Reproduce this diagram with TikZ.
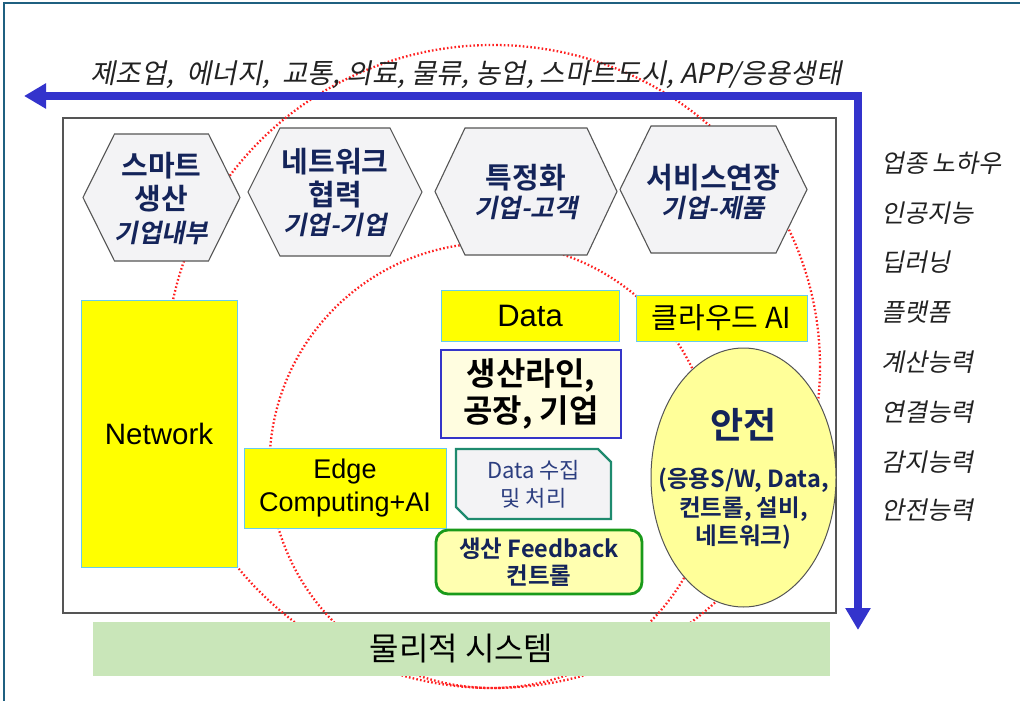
\documentclass[tikz,border=0pt]{standalone}
\usepackage{fontspec}
\setmainfont{Liberation Sans}
\newfontfamily\kr{Noto Sans CJK KR}
\newfontfamily\krb{Noto Sans CJK KR Bold}
\newfontfamily\krit[FakeSlant=0.2]{Noto Sans CJK KR}
\newfontfamily\krbi[FakeSlant=0.2]{Noto Sans CJK KR Bold}
\usetikzlibrary{shapes.geometric,arrows.meta}
\definecolor{navy}{HTML}{14245A}
\definecolor{hexfill}{HTML}{F3F3F5}
\definecolor{hexline}{HTML}{555555}
\definecolor{ylw}{HTML}{FFFF00}
\definecolor{ylwline}{HTML}{66CCEE}
\definecolor{cream}{HTML}{FFFDE0}
\definecolor{boxblue}{HTML}{3535C8}
\definecolor{tealline}{HTML}{1E8A6E}
\definecolor{datatext}{HTML}{2C3E80}
\definecolor{fbgreen}{HTML}{1A9A1A}
\definecolor{fbfill}{HTML}{FFFFB0}
\definecolor{elfill}{HTML}{FFFF99}
\definecolor{barfill}{HTML}{C9E6B9}
\definecolor{arrblue}{HTML}{3333CC}
\definecolor{framecol}{HTML}{1F6080}
\definecolor{dgray}{HTML}{222222}
\definecolor{dotred}{HTML}{FF2020}
\newcommand\myhex[5]{%
  \draw[hexsty] (#1-#3,#2) -- (#1-#3+#5,#2-#4) -- (#1+#3-#5,#2-#4) -- (#1+#3,#2)
    -- (#1+#3-#5,#2+#4) -- (#1-#3+#5,#2+#4) -- cycle;}
\tikzset{
  hexsty/.style={draw=hexline, fill=hexfill, line width=1.1pt},
  hextitle/.style={inner sep=0pt, text=navy, font=\krb\fontsize{29}{32}\selectfont},
  hexsub/.style={inner sep=0pt, text=navy, font=\krbi\fontsize{25.5}{28}\selectfont},
  ybox/.style={draw=ylwline, fill=ylw, line width=1pt, inner sep=0pt, text=black},
  reddot/.style={draw=dotred, line width=2.3pt, dash pattern=on 1.6pt off 2.2pt},
  sidetext/.style={anchor=west, inner sep=0pt, text=dgray, font=\krit\fontsize{25}{29}\selectfont},
  blueline/.style={draw=arrblue, line width=7.5pt, line join=miter},
}
\begin{document}
\begin{tikzpicture}[x=1pt, y=-1pt]
\useasboundingbox (0,0) rectangle (1020,701);
% outer frame lines
\draw[framecol, line width=1.5pt] (4,701) -- (4,3) -- (1020,3);
% inner panel
\node[draw=hexline, line width=1.2pt, minimum width=773pt, minimum height=495pt, inner sep=0pt] (panel) at (449.5,365.5) {};
% red dotted circles
\draw[reddot] (493,366.5) ellipse [x radius=327, y radius=321.5];
\draw[reddot] (492,465.5) circle [radius=222.5];
% top text
\node[inner sep=0pt, text=dgray, font=\krit\fontsize{27.5}{31}\selectfont] (toptext) at (466,75)
  {제조업,\ \ 에너지,\ \ 교통, 의료, 물류, 농업, 스마트도시, APP/응용생태};
% blue arrow
\coordinate (arrL) at (24,96);
\coordinate (arrC) at (858,96);
\coordinate (arrB) at (858,630);
\draw[blueline, {Triangle[length=22pt,width=24pt]}-{Triangle[length=22pt,width=24pt]}] (arrL) -- (arrC) -- (arrB);
% hexagons
\myhex{161.5}{197.5}{78.5}{63.5}{31.5}
\myhex{335}{192}{87}{64}{32}
\myhex{526}{191.5}{91}{63.5}{30}
\myhex{713.5}{189.5}{93.5}{63.5}{31}
\node[hextitle] (h1a) at (161.5,166) {스마트};
\node[hextitle] (h1b) at (161.5,199) {생산};
\node[hexsub] (h1c) at (161.5,233) {기업내부};
\node[hextitle] (h2a) at (335,162) {네트워크};
\node[hextitle] (h2b) at (335,195) {협력};
\node[hexsub] (h2c) at (335,225) {기업-기업};
\node[hextitle] (h3a) at (526,178) {특정화};
\node[hexsub] (h3b) at (526,208) {기업-고객};
\node[hextitle] (h4a) at (713.5,178) {서비스연장};
\node[hexsub] (h4b) at (713.5,208) {기업-제품};
% yellow boxes
\node[ybox, minimum width=156pt, minimum height=267pt, font=\fontsize{29.5}{33}\selectfont] (network) at (159,433.5) {Network};
\node[ybox, minimum width=178pt, minimum height=51pt, font=\fontsize{31}{34}\selectfont] (data) at (530,315.5) {Data};
\node[ybox, minimum width=171pt, minimum height=46pt, font=\kr\fontsize{29}{32}\selectfont] (cloud) at (721.5,318) {클라우드 AI};
\node[ybox, minimum width=202pt, minimum height=80pt, align=center, font=\fontsize{27}{33}\selectfont] (edge) at (345,488) {Edge\\Computing+AI};
% production line box
\node[draw=boxblue, fill=cream, line width=1.8pt, minimum width=180pt, minimum height=88pt, inner sep=0pt,
  align=center, font=\krb\fontsize{32}{37}\selectfont] (line) at (531,394) {생산라인,\\공장, 기업};
% data collection box
\draw[draw=tealline, fill=hexfill, line width=2.2pt] (456,449) -- (598,449) -- (611,462) -- (611,519) -- (468,519) -- (456,507) -- cycle;
\node[inner sep=0pt, align=center, text=datatext, font=\kr\fontsize{22}{28}\selectfont] (collect) at (533.5,484) {Data 수집\\및 처리};
% feedback box
\node[draw=fbgreen, fill=fbfill, line width=2.8pt, rounded corners=12pt, minimum width=206pt, minimum height=64pt,
  inner sep=0pt, align=center, text=navy, font=\krb\fontsize{23.5}{27}\selectfont] (feedback) at (539,562) {생산 Feedback\\컨트롤};
% safety ellipse
\node[ellipse, draw=hexline, fill=elfill, line width=1pt, minimum width=185pt, minimum height=259pt, inner sep=0pt] (safety) at (743.5,477.5) {};
\node[inner sep=0pt, text=navy, font=\krb\fontsize{36}{40}\selectfont] (safetyt) at (743.5,425) {안전};
\node[inner sep=0pt, align=center, text=navy, font=\krb\fontsize{23.5}{28.5}\selectfont] (safetys) at (743.5,509) {(응용S/W, Data,\\컨트롤, 설비,\\네트워크)};
% physical system bar
\node[fill=barfill, minimum width=737pt, minimum height=54pt, inner sep=0pt, text=black, font=\kr\fontsize{32}{36}\selectfont] (phys) at (461.5,649) {물리적 시스템};
% right list
\node[sidetext] (s1) at (881,163) {업종 노하우};
\node[sidetext] (s2) at (881,213) {인공지능};
\node[sidetext] (s3) at (881,262) {딥러닝};
\node[sidetext] (s4) at (881,312) {플랫폼};
\node[sidetext] (s5) at (881,362) {계산능력};
\node[sidetext] (s6) at (881,412) {연결능력};
\node[sidetext] (s7) at (881,462) {감지능력};
\node[sidetext] (s8) at (881,510) {안전능력};
\end{tikzpicture}
\end{document}
